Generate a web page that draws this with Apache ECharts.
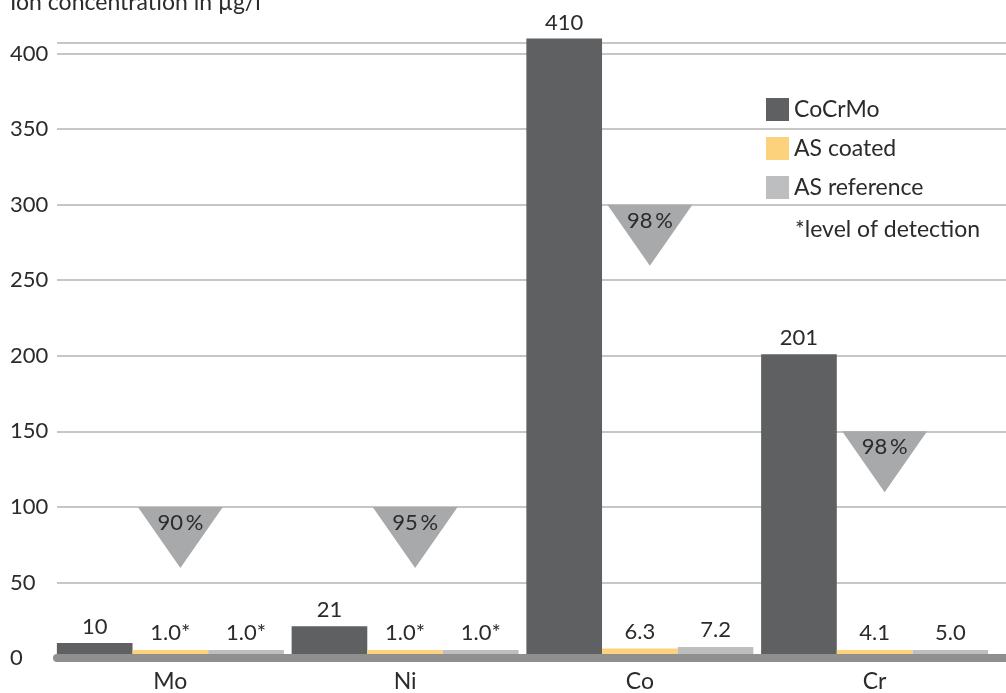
<!DOCTYPE html>
<html>
<head>
<meta charset="utf-8">
<script src="https://cdn.jsdelivr.net/npm/echarts@6/dist/echarts.min.js"></script>
<style>
html,body{margin:0;padding:0;background:#fff;}
#chart{width:1006px;height:693px;}
</style>
</head>
<body>
<div id="chart"></div>
<script>
// ---- data ----
const categories = ['Mo', 'Ni', 'Co', 'Cr'];
const seriesNames = ['CoCrMo', 'AS coated', 'AS reference'];
const cocrmo = [10, 21, 410, 201];
const asCoated = [1.0, 1.0, 6.3, 4.1];
const asReference = [1.0, 1.0, 7.2, 5.0];
const atDetectionLevel = [true, true, false, false];
const reductionPercent = [90, 95, 98, 98];
const reductionMarkerValue = [100, 100, 300, 150];
const yMin = 0, yMax = 407, yInterval = 50;
const axisTitle = 'Ion concentration in µg/l';
const footnote = '*level of detection';

// ---- style ----
const FONT = 'Lato';
const TXT = '#2b2b2b';
const NUM = 22, WORD = 23;
const colors = ['#5f6062', '#fdd27c', '#bdbec0'];
const triColor = '#a8a9ab';

const chart = echarts.init(document.getElementById('chart'));

function lowLabel(params) {
  return params.value.toFixed(1) + (atDetectionLevel[params.dataIndex] ? '*' : '');
}

const labelBase = {show: true, position: 'top', distance: 5, fontFamily: FONT, fontSize: NUM, color: TXT};

chart.setOption({
  animation: false,
  textStyle: {fontFamily: FONT},
  title: [
    {text: axisTitle, left: 10, top: -9, padding: 0, textStyle: {fontFamily: FONT, fontSize: WORD, fontWeight: 'normal', color: TXT}},
    {text: footnote, left: 795, top: 218, padding: 0, textStyle: {fontFamily: FONT, fontSize: WORD, fontWeight: 'normal', color: TXT}}
  ],
  legend: {
    data: seriesNames,
    orient: 'vertical',
    left: 766, top: 98, padding: 0,
    itemWidth: 23, itemHeight: 23, itemGap: 16,
    icon: 'rect',
    textStyle: {fontFamily: FONT, fontSize: WORD, color: TXT}
  },
  grid: [
    {left: 53, right: 14, top: 43, bottom: 35},
    {left: 57, right: 0, top: 43, bottom: 35}
  ],
  xAxis: [
    {type: 'category', gridIndex: 0, data: categories,
     axisLine: {show: false}, axisTick: {show: false},
     axisLabel: {fontFamily: FONT, fontSize: WORD, color: TXT, margin: 12}},
    {type: 'category', gridIndex: 1, data: categories, z: 10,
     axisLine: {show: true, lineStyle: {color: '#8f8f8f', width: 8}},
     axisTick: {show: false}, axisLabel: {show: false}}
  ],
  yAxis: [
    {type: 'value', gridIndex: 0, min: yMin, max: yMax, interval: yInterval,
     splitLine: {show: false}, axisLine: {show: false}, axisTick: {show: false},
     axisLabel: {align: 'left', margin: 43, fontFamily: FONT, fontSize: NUM, color: TXT, showMaxLabel: false}},
    {type: 'value', gridIndex: 1, min: yMin, max: yMax, interval: yInterval,
     axisLine: {show: false}, axisTick: {show: false}, axisLabel: {show: false},
     splitLine: {show: true, lineStyle: {color: '#b3b3b3', width: 1.5}}}
  ],
  series: [
    {name: seriesNames[0], type: 'bar', data: cocrmo, barGap: '0%', barCategoryGap: '3.3%', clip: false,
     itemStyle: {color: colors[0]}, label: Object.assign({}, labelBase)},
    {name: seriesNames[1], type: 'bar', data: asCoated, barGap: '0%', barMinHeight: 8, clip: false,
     itemStyle: {color: colors[1]}, label: Object.assign({}, labelBase, {formatter: lowLabel, distance: 6})},
    {name: seriesNames[2], type: 'bar', data: asReference, barGap: '0%', barMinHeight: 8, clip: false,
     itemStyle: {color: colors[2]}, label: Object.assign({}, labelBase, {formatter: lowLabel, distance: 6})},
    {type: 'custom', xAxisIndex: 0, yAxisIndex: 0, z: 5, clip: false,
     data: reductionMarkerValue.map((v, i) => [i, v, reductionPercent[i]]),
     renderItem: function (params, api) {
       const p = api.coord([api.value(0), api.value(1)]);
       const cx = p[0] + 10, y = p[1], w = 85, h = 61;
       return {
         type: 'group',
         children: [
           {type: 'polygon', shape: {points: [[cx - w / 2, y], [cx + w / 2, y], [cx, y + h]]},
            style: {fill: triColor}},
           {type: 'text', style: {text: api.value(2) + '\u2009%', x: cx, y: y + 16,
             align: 'center', verticalAlign: 'middle', fontFamily: FONT, fontSize: NUM, fill: TXT}}
         ]
       };
     }}
  ]
});
</script>
</body>
</html>
